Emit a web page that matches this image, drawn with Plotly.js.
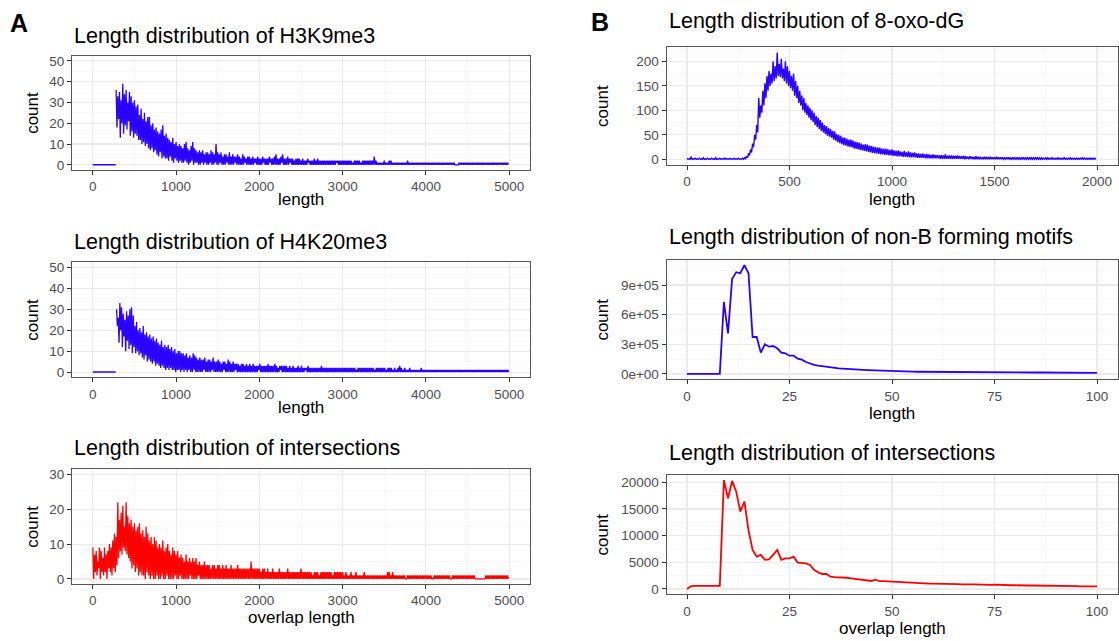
<!DOCTYPE html>
<html>
<head>
<meta charset="utf-8">
<script src="https://cdn.plot.ly/plotly-3.0.1.min.js"></script>
<style>html,body{margin:0;padding:0;background:#fff;}#chart{width:1119px;height:641px;}</style>
</head>
<body>
<div id="chart"></div>
<script>
// ---------------- DATA ----------------
// Panel A, H3K9me3: flat zero stretch, then noisy counts in 20-bp bins (upper / lower values in each bin)
const h3k9LeadLengths = [0, 275];
const h3k9LeadCounts = [0, 0];
const h3k9Start = 280, h3k9Step = 20;
const h3k9Hi = [
  36,33,35,31,39,34,36,30,35,33, 30,31,28,29,24,27,22,25,21,23,
  23,19,20,17,18,16,15,17,19,14, 15,13,12,11,13,10,11,9,10,9,
  8,10,11,8,7,9,11,8,7,6, 7,6,7,5,6,6,5,7,6,5,
  10,6,5,6,4,5,5,4,6,4, 5,4,4,5,4,3,5,4,3,4,
  4,3,4,3,3,4,3,3,4,3, 3,3,4,3,3,4,5,3,3,4,
  5,3,3,4,3,3,3,2,3,3, 3,2,3,2,2,3,2,2,2,3,
  2,3,2,2,2,2,2,2,2,2, 2,2,2,2,2,2,2,2,2,2,
  2,2,1,2,2,2,2,1,2,2, 2,2,2,2,2,4,2,1,1,1,
  1,2,1,1,2,2,1,1,1,1, 1,1,1,1,1,2,1,1,1,1,
  1,1,1,1,1,1,1,1,1,1, 1,1,1,1,1,1,1,1,1,1,
  1,1,1,1,0,0,1,1,1,1, 1,1,1,1,1,1,1,1,1,1,
  1,1,1,1,1,1,1,1,1,1, 1,1,1,1,1,1];
const h3k9Lo = [
  18,22,13,20,15,19,17,21,14,16, 13,15,14,12,12,10,11,9,10,8,
  7,8,6,7,5,4,6,3,4,3, 3,2,4,2,1,3,2,1,2,1,
  1,2,1,0,1,2,0,1,1,0, 0,1,0,1,0,0,1,0,0,1,
  0,0,1,0,0,0,1,0,0,0, 0,1,0,0,0,0,0,1,0,0,
  0,0,0,1,0,0,0,0,1,0, 0,0,1,0,0,0,0,0,0,1,
  0,0,0,0,1,0,0,0,0,0, 0,0,0,0,0,1,0,0,0,0,
  0,0,0,0,0,0,0,0,0,0, 0,0,1,0,0,0,0,0,0,0,
  0,0,0,0,0,0,0,0,0,0, 0,0,0,0,0,0,0,0,0,0,
  0,0,0,0,0,0,0,0,0,0, 0,0,0,0,0,0,0,0,0,0,
  0,0,0,0,0,0,0,0,0,0, 0,0,0,0,0,0,0,0,0,0,
  0,0,0,0,0,0,0,0,0,0, 0,0,0,0,0,0,0,0,0,0,
  0,0,0,0,0,0,0,0,0,0, 0,0,0,0,0,0];

// Panel A, H4K20me3
const h4k20LeadLengths = [0, 275];
const h4k20LeadCounts = [0, 0];
const h4k20Start = 285, h4k20Step = 20;
const h4k20Hi = [
  30,26,33,31,28,25,29,27,30,31, 27,22,24,20,21,19,22,18,19,17,
  18,16,17,15,16,14,13,15,12,13, 12,13,11,12,10,11,9,10,10,9,
  9,8,9,7,8,7,9,8,7,6, 7,6,6,7,5,6,6,5,7,5,
  5,6,5,4,5,5,4,6,5,4, 5,4,4,4,3,4,4,3,4,3,
  4,3,4,3,3,3,4,3,3,3, 3,4,3,3,3,4,3,2,3,3,
  3,3,3,2,3,2,3,2,2,3, 2,3,2,2,2,3,2,2,2,2,
  2,2,2,3,2,2,2,2,2,2, 2,2,2,2,2,2,2,2,2,2,
  2,2,2,2,1,2,2,2,2,2, 2,2,2,2,2,1,2,2,2,2,
  2,2,1,2,2,2,1,2,1,2, 3,2,1,2,1,1,2,1,1,1,
  1,1,1,2,1,1,1,1,1,1, 1,1,1,1,1,1,1,1,1,1,
  1,1,1,1,1,1,1,1,1,1, 1,1,1,1,1,1,1,1,1,1,
  1,1,1,1,1,1,1,1,1,1, 1,1,1,1,1,1];
const h4k20Lo = [
  22,14,20,12,17,10,15,11,13,9, 12,9,10,8,9,7,6,8,5,6,
  5,4,5,3,4,3,2,3,2,1, 2,1,2,1,1,0,1,1,0,1,
  0,1,0,1,0,0,1,0,0,0, 0,0,1,0,0,0,0,1,0,0,
  0,0,0,0,1,0,0,0,0,0, 0,1,0,0,0,0,0,0,0,0,
  0,0,0,0,0,1,0,0,0,0, 0,0,0,0,0,0,0,0,1,0,
  0,0,0,0,0,0,0,0,0,0, 0,0,0,1,0,0,0,0,0,0,
  0,0,0,0,0,0,0,0,0,0, 0,0,0,0,0,0,0,0,0,0,
  0,0,0,0,0,0,0,0,0,0, 0,0,0,0,0,0,0,0,0,0,
  0,0,0,0,0,0,0,0,0,0, 0,0,0,0,0,0,0,0,0,0,
  0,0,0,0,0,0,0,0,0,0, 0,0,0,0,0,0,0,0,0,0,
  0,0,0,0,0,0,0,0,0,0, 0,0,0,0,0,0,0,0,0,0,
  0,0,0,0,0,0,0,0,0,0, 0,0,0,0,0,0];

// Panel A, intersections (overlap length), 20-bp bins from 0
const interAStart = 0, interAStep = 20;
const interAHi = [
  9,7,8,5,9,8,6,9,7,8, 10,9,11,13,12,22,17,19,21,15,
  22,18,16,17,15,16,14,15,16,13, 14,12,15,13,11,12,10,12,11,9,
  10,9,11,8,9,10,8,7,9,8, 7,8,6,7,6,5,7,5,6,5,
  6,5,6,4,5,4,4,5,4,4, 4,3,4,4,3,4,4,3,4,3,
  4,3,3,4,3,3,3,4,3,3, 3,3,3,3,3,5,3,3,3,3,
  3,2,3,3,2,3,2,2,3,2, 2,2,3,2,2,2,2,3,2,2,
  2,2,2,2,2,3,2,2,2,2, 2,2,1,2,2,2,1,2,2,2,
  2,2,2,2,1,2,2,2,2,2, 2,1,2,1,1,2,1,1,2,1,
  1,1,1,2,1,1,1,1,1,1, 1,1,1,1,1,1,1,2,2,1,
  2,1,1,1,1,1,1,1,0,1, 1,1,1,1,1,1,1,1,1,1,
  1,1,1,1,0,1,1,1,1,1, 1,1,1,1,1,0,1,1,1,1,
  1,1,1,1,1,1,1,1,1,1, 0,0,0,0,0,0,1,1,1,1,
  1,1,1,1,1,1,1,1,1,1];
const interALo = [
  0,2,1,3,0,2,1,2,0,3, 2,1,3,2,4,6,8,7,9,8,
  7,6,5,3,4,2,3,1,2,1, 1,0,2,1,0,1,0,0,1,0,
  0,1,0,0,1,0,0,0,0,1, 0,0,1,0,0,0,0,0,1,0,
  0,0,0,1,0,0,0,0,0,0, 0,0,0,0,0,0,0,0,0,0,
  0,0,0,0,0,0,0,0,0,0, 0,0,0,0,0,0,0,0,0,0,
  0,0,0,0,0,0,0,0,0,0, 0,0,0,0,0,0,0,0,0,0,
  0,0,0,0,0,0,0,0,0,0, 0,0,0,0,0,0,0,0,0,0,
  0,0,0,0,0,0,0,0,0,0, 0,0,0,0,0,0,0,0,0,0,
  0,0,0,0,0,0,0,0,0,0, 0,0,0,0,0,0,0,0,0,0,
  0,0,0,0,0,0,0,0,0,0, 0,0,0,0,0,0,0,0,0,0,
  0,0,0,0,0,0,0,0,0,0, 0,0,0,0,0,0,0,0,0,0,
  0,0,0,0,0,0,0,0,0,0, 0,0,0,0,0,0,0,0,0,0,
  0,0,0,0,0,0,0,0,0,0];

// Panel B, 8-oxo-dG (10-bp bins, upper / lower values)
const oxoStart = 0, oxoStep = 10;
const oxoHi = [
  2,1,5,1,2,1,2,1,3,1, 2,1,2,1,3,1,2,1,2,2,
  1,2,1,2,1,2,1,2,3,6, 12,20,32,50,70,125,110,140,155,170,
  180,175,200,190,218,195,205,185,200,190, 180,170,175,160,150,140,130,125,115,110,
  105,100,95,88,85,80,75,70,68,64, 62,58,57,52,50,48,45,44,42,40,
  40,38,36,35,34,32,30,31,30,28, 27,26,25,24,24,22,21,22,20,19,
  20,18,17,18,16,15,17,14,16,14, 13,14,12,12,11,12,10,11,10,9,
  10,9,9,8,9,8,10,7,8,8, 7,7,8,6,6,7,6,5,6,5,
  5,6,5,5,4,5,5,4,5,4, 4,5,4,4,4,3,4,4,3,4,
  3,4,3,3,4,3,3,4,3,3, 4,3,3,3,2,3,3,2,3,2,
  2,3,2,2,3,2,2,3,2,2, 2,2,2,3,2,2,2,2,2,2];
const oxoLo = [
  0,0,0,0,0,0,0,0,0,0, 0,0,0,0,0,0,0,0,0,0,
  0,0,0,0,0,0,0,0,1,3, 8,14,25,40,55,85,95,110,125,140,
  150,155,160,165,170,168,165,160,155,150, 145,140,130,125,115,110,100,95,90,85,
  80,76,70,66,62,58,55,52,48,46, 44,40,38,35,33,31,29,28,26,25,
  24,22,21,20,19,18,17,16,15,14, 13,12,12,11,10,10,9,9,8,8,
  7,7,6,6,6,5,5,5,4,4, 4,4,3,3,3,3,2,2,2,2,
  2,2,2,1,1,1,1,1,1,1, 1,1,1,1,1,0,1,0,1,0,
  0,0,0,0,0,0,0,0,0,0, 0,0,0,0,0,0,0,0,0,0,
  0,0,0,0,0,0,0,0,0,0, 0,0,0,0,0,0,0,0,0,0,
  0,0,0,0,0,0,0,0,0,0, 0,0,0,0,0,0,0,0,0,0];

// Panel B, non-B forming motifs (length 0..100)
const nonBLengths = Array.from({length: 101}, (_, i) => i);
const nonBCounts = [0,0,0,0,0,0,0,0,0,
  730000,410000,960000,1030000,1020000,1100000,1020000,374000,374000,216000,
  300000,276000,283000,260000,216000,209000,185000,185000,155000,145000,
  121000,105000,91000,84000,78000,72000,62000,60000,57000,54000,
  50000,47000,45000,43000,41000,39000,37000,35000,33000,31000,
  29000,27000,26000,25000,24000,23500,23000,22500,22000,21500,
  21000,20500,20000,20000,19500,19500,19000,19000,18500,18500,
  18000,18000,17500,17500,17000,17000,17000,16500,16500,16500,
  16000,16000,16000,15500,15500,15500,15000,15000,15000,15000,
  14500,14500,14500,14500,14000,14000,14000,14000,14000,18000,
  13000,12000];

// Panel B, intersections (overlap length 0..100)
const interBLengths = Array.from({length: 101}, (_, i) => i);
const interBCounts = [0,550,580,600,600,610,600,590,580,
  20400,17000,20250,18250,14500,16400,11000,7300,6050,6400,
  5450,5550,6400,7300,5450,5750,5750,6050,4950,4900,
  4800,4500,3600,3100,2800,2800,2300,2200,2200,2100,
  2100,2000,1900,1850,1750,1700,1500,1750,1450,1450,
  1400,1400,1350,1300,1250,1200,1150,1100,1100,1050,
  1000,1000,1000,950,950,950,900,900,850,900,
  850,850,800,800,750,750,800,750,750,700,
  700,700,650,650,650,650,650,650,600,600,
  600,550,550,550,550,550,550,500,500,500,
  500,500];

// Tick labels
const tickA5000 = [0,1000,2000,3000,4000,5000];
const tickA5000Text = ['0','1000','2000','3000','4000','5000'];
const tickA50 = [0,10,20,30,40,50];
const tickA50Text = ['0','10','20','30','40','50'];
const tickA30 = [0,10,20,30];
const tickA30Text = ['0','10','20','30'];
const tickB2000 = [0,500,1000,1500,2000];
const tickB2000Text = ['0','500','1000','1500','2000'];
const tickB200 = [0,50,100,150,200];
const tickB200Text = ['0','50','100','150','200'];
const tickB100 = [0,25,50,75,100];
const tickB100Text = ['0','25','50','75','100'];
const tickNonB = [0,300000,600000,900000];
const tickNonBText = ['0e+00','3e+05','6e+05','9e+05'];
const tickInterB = [0,5000,10000,15000,20000];
const tickInterBText = ['0','5000','10000','15000','20000'];

const titles = ['Length distribution of H3K9me3','Length distribution of H4K20me3','Length distribution of intersections',
  'Length distribution of 8-oxo-dG','Length distribution of non-B forming motifs','Length distribution of intersections'];
const xTitles = ['length','length','overlap length','length','length','overlap length'];

// ---------------- BUILD ----------------
function envelope(start, step, hi, lo) {
  const x = [], y = [];
  for (let i = 0; i < hi.length; i++) {
    x.push(start + i * step); y.push(hi[i]);
    x.push(start + i * step + step / 2); y.push(lo[i]);
  }
  return {x, y};
}
const BLUE = '#2a00ff', RED = '#ff0000';
const s1 = envelope(h3k9Start, h3k9Step, h3k9Hi, h3k9Lo);
const s2 = envelope(h4k20Start, h4k20Step, h4k20Hi, h4k20Lo);
const s3 = envelope(interAStart, interAStep, interAHi, interALo);
const s4 = envelope(oxoStart, oxoStep, oxoHi, oxoLo);

function tr(s, n, color, w) {
  return {x: s.x, y: s.y, type: 'scatter', mode: 'lines', xaxis: 'x' + n, yaxis: 'y' + n,
    line: {color: color, width: w}, hoverinfo: 'x+y'};
}
const data = [
  tr({x: h3k9LeadLengths, y: h3k9LeadCounts}, '', BLUE, 1.4),
  tr(s1, '', BLUE, 1.3),
  tr({x: h4k20LeadLengths, y: h4k20LeadCounts}, 2, BLUE, 1.4),
  tr(s2, 2, BLUE, 1.3),
  tr(s3, 3, RED, 1.3),
  tr(s4, 4, BLUE, 1.4),
  tr({x: nonBLengths, y: nonBCounts}, 5, BLUE, 1.8),
  tr({x: interBLengths, y: interBCounts}, 6, RED, 1.8)
];

const W = 1119, H = 641;
const px = v => v / W, py = v => 1 - v / H;

// panel geometry in pixels: [left, right], [top, bottom]
const panels = [
  {xp: [72, 530], yp: [55.7, 170], xr: [-250, 5250], yr: [-2.5, 52.5], xt: [tickA5000, tickA5000Text], yt: [tickA50, tickA50Text], xm: 500, ym: 5, title: 36, xtitle: 200},
  {xp: [72, 530], yp: [262.2, 377.3], xr: [-250, 5250], yr: [-2.5, 52.5], xt: [tickA5000, tickA5000Text], yt: [tickA50, tickA50Text], xm: 500, ym: 5, title: 242, xtitle: 407},
  {xp: [72, 530], yp: [469.1, 584.2], xr: [-250, 5250], yr: [-1.5, 31.5], xt: [tickA5000, tickA5000Text], yt: [tickA30, tickA30Text], xm: 500, ym: 5, title: 448, xtitle: 617},
  {xp: [666.5, 1117.5], yp: [47.2, 164.6], xr: [-100, 2100], yr: [-10.9, 228.9], xt: [tickB2000, tickB2000Text], yt: [tickB200, tickB200Text], xm: 250, ym: 25, title: 21, xtitle: 199},
  {xp: [666.5, 1117.5], yp: [259.8, 379.4], xr: [-5, 105], yr: [-55000, 1155000], xt: [tickB100, tickB100Text], yt: [tickNonB, tickNonBText], xm: 12.5, ym: 150000, title: 237, xtitle: 413},
  {xp: [666.5, 1117.5], yp: [474.7, 594.4], xr: [-5, 105], yr: [-1020, 21420], xt: [tickB100, tickB100Text], yt: [tickInterB, tickInterBText], xm: 12.5, ym: 2500, title: 453, xtitle: 628}
];

const layout = {
  width: W, height: H, margin: {l: 0, r: 0, t: 0, b: 0},
  paper_bgcolor: '#ffffff', plot_bgcolor: '#ffffff', showlegend: false,
  font: {family: 'Liberation Sans, Arial, sans-serif', color: '#000'},
  annotations: []
};
const tickFont = {family: 'Liberation Sans, Arial, sans-serif', size: 13.5, color: '#4d4d4d'};
panels.forEach((p, i) => {
  const n = i === 0 ? '' : String(i + 1);
  const common = {
    showline: true, mirror: true, linecolor: '#555555', linewidth: 1,
    ticks: 'outside', ticklen: 4, tickwidth: 1, tickcolor: '#333333',
    showgrid: true, gridcolor: '#ebebeb', gridwidth: 1.1, zeroline: false,
    tickfont: tickFont, fixedrange: true, tickmode: 'array'
  };
  layout['xaxis' + n] = Object.assign({}, common, {
    domain: [px(p.xp[0]), px(p.xp[1])], range: p.xr, anchor: 'y' + n,
    tickvals: p.xt[0], ticktext: p.xt[1],
    minor: {tickmode: 'linear', tick0: p.xm, dtick: p.xm * 2, showgrid: true, gridcolor: '#f3f3f3', gridwidth: 0.6, ticks: ''}
  });
  layout['yaxis' + n] = Object.assign({}, common, {
    domain: [py(p.yp[1]), py(p.yp[0])], range: p.yr, anchor: 'x' + n,
    tickvals: p.yt[0], ticktext: p.yt[1],
    minor: {tickmode: 'linear', tick0: p.ym, dtick: p.ym * 2, showgrid: true, gridcolor: '#f3f3f3', gridwidth: 0.6, ticks: ''}
  });
  const cx = (p.xp[0] + p.xp[1]) / 2, cy = (p.yp[0] + p.yp[1]) / 2;
  layout.annotations.push({text: titles[i], xref: 'paper', yref: 'paper', x: px(p.xp[0]), y: py(p.title),
    xanchor: 'left', yanchor: 'middle', showarrow: false, font: {size: 21.5, color: '#000'}});
  layout.annotations.push({text: xTitles[i], xref: 'paper', yref: 'paper', x: px(cx), y: py(p.xtitle),
    xanchor: 'center', yanchor: 'middle', showarrow: false, font: {size: 17, color: '#000'}});
  layout.annotations.push({text: 'count', xref: 'paper', yref: 'paper', x: px(i < 3 ? 33 : 603), y: py(cy),
    xanchor: 'center', yanchor: 'middle', textangle: -90, showarrow: false, font: {size: 17, color: '#000'}});
});
layout.annotations.push({text: '<b>A</b>', xref: 'paper', yref: 'paper', x: px(19), y: py(23), xanchor: 'center', yanchor: 'middle', showarrow: false, font: {size: 25, color: '#000'}});
layout.annotations.push({text: '<b>B</b>', xref: 'paper', yref: 'paper', x: px(600), y: py(22), xanchor: 'center', yanchor: 'middle', showarrow: false, font: {size: 25, color: '#000'}});

Plotly.newPlot('chart', data, layout, {displayModeBar: false, staticPlot: true});
</script>
</body>
</html>
